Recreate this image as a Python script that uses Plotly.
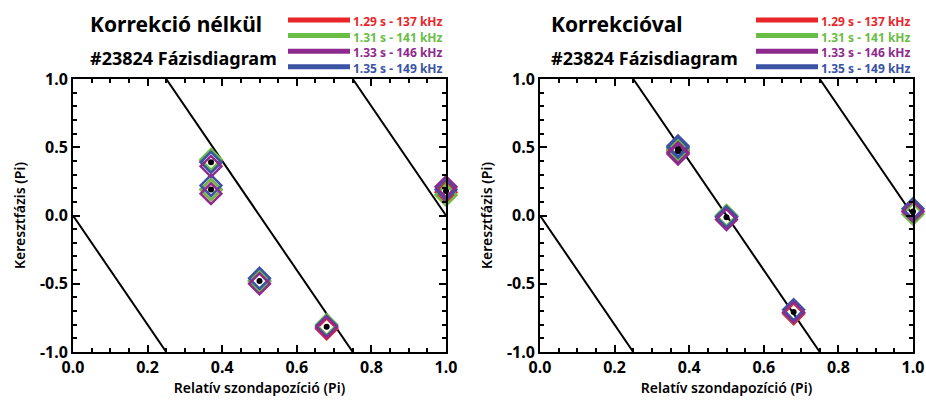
import plotly.graph_objects as go

# Probe positions (relative, in units of Pi) and measured cross-phases (Pi)
positions = [0.37, 0.37, 0.5, 0.68, 1.0]

series_names = ["1.29 s - 137 kHz", "1.31 s - 141 kHz", "1.33 s - 146 kHz", "1.35 s - 149 kHz"]
series_colors = ["#e8262a", "#6abd45", "#8e2a8d", "#3a53a4"]

# Without correction
raw_red = [0.40, 0.19, -0.48, -0.83, 0.17]
raw_green = [0.41, 0.19, -0.48, -0.80, 0.15]
raw_purple = [0.36, 0.16, -0.50, -0.82, 0.21]
raw_blue = [0.39, 0.22, -0.46, -0.81, 0.19]

# With correction
cor_red = [0.48, 0.47, -0.01, -0.72, 0.03]
cor_green = [0.49, 0.47, 0.00, -0.71, 0.01]
cor_purple = [0.46, 0.45, -0.03, -0.71, 0.03]
cor_blue = [0.51, 0.50, -0.01, -0.69, 0.05]

# Reference mode lines: phase = slope * position + intercept
line_slope = -4.0
line_intercepts = [0.0, 2.0, 4.0]

x_ticks = [0.0, 0.2, 0.4, 0.6, 0.8, 1.0]
y_ticks = [-1.0, -0.5, 0.0, 0.5, 1.0]

panel_titles = ["Korrekció nélkül", "Korrekcióval"]
sub_title = "#23824 Fázisdiagram"
x_title = "Relatív szondapozíció (Pi)"
y_title = "Keresztfázis (Pi)"

FONT = "Noto Sans"
W, H = 926, 403

# pixel layout of the two panels
panels = [
    dict(x0=73, x1=446, xa="x", ya="y", data=[raw_red, raw_green, raw_blue, raw_purple],
         title_x=88, leg_line=(288, 350)),
    dict(x0=540, x1=913, xa="x2", ya="y2", data=[cor_red, cor_green, cor_blue, cor_purple],
         title_x=549, leg_line=(756, 818)),
]
y_top, y_bot = 79, 352
draw_colors = [series_colors[0], series_colors[1], series_colors[3], series_colors[2]]

fig = go.Figure()


def clipped_segment(b):
    # clip y = slope*x + b to the box [0,1] x [-1,1]
    xs = []
    for x in (0.0, 1.0):
        y = line_slope * x + b
        if -1.0 <= y <= 1.0:
            xs.append(x)
    for y in (-1.0, 1.0):
        x = (y - b) / line_slope
        if 0.0 <= x <= 1.0:
            xs.append(x)
    xs = sorted(set(round(v, 9) for v in xs))
    return [xs[0], xs[-1]], [line_slope * xs[0] + b, line_slope * xs[-1] + b]


for p in panels:
    for b in line_intercepts:
        lx, ly = clipped_segment(b)
        fig.add_trace(go.Scatter(x=lx, y=ly, mode="lines", xaxis=p["xa"], yaxis=p["ya"],
                                 line=dict(color="black", width=2), showlegend=False,
                                 hoverinfo="skip"))
    vals = p["data"]
    for v, c in zip(vals, draw_colors):
        fig.add_trace(go.Scatter(x=positions, y=v, mode="markers", xaxis=p["xa"], yaxis=p["ya"],
                                 marker=dict(symbol="diamond-open", size=16, color=c,
                                             line=dict(width=2.5, color=c)),
                                 showlegend=False, cliponaxis=False))
    means = [sum(v[i] for v in vals) / len(vals) for i in range(len(positions))]
    fig.add_trace(go.Scatter(x=positions, y=means, mode="markers", xaxis=p["xa"], yaxis=p["ya"],
                             marker=dict(symbol="circle", size=6, color="black"),
                             showlegend=False, cliponaxis=False))

axis_common = dict(
    showline=True, linewidth=2, linecolor="black", mirror="ticks",
    ticks="inside", ticklen=7, tickwidth=2, tickcolor="black",
    showgrid=False, zeroline=False, automargin=False,
    tickfont=dict(family=FONT, size=16, color="black", weight="bold"),
)

layout = dict(
    width=W, height=H, margin=dict(l=0, r=0, t=0, b=0),
    paper_bgcolor="white", plot_bgcolor="white", showlegend=False,
)

annotations = []
shapes = []
for i, p in enumerate(panels):
    sfx = "" if i == 0 else "2"
    xa = dict(axis_common, domain=[p["x0"] / W, p["x1"] / W], range=[0, 1],
              tickvals=x_ticks, ticktext=[f"{t:.1f}" for t in x_ticks],
              minor=dict(dtick=0.05, ticks="inside", ticklen=4, tickwidth=2, tickcolor="black"),
              anchor="y" + sfx,
              title=dict(text=x_title, font=dict(family=FONT, size=14, color="black", weight=600),
                         standoff=6))
    ya = dict(axis_common, domain=[1 - y_bot / H, 1 - y_top / H], range=[-1, 1],
              tickvals=y_ticks, ticktext=[f"{t:.1f}" for t in y_ticks],
              minor=dict(dtick=0.1, ticks="inside", ticklen=4, tickwidth=2, tickcolor="black"),
              anchor="x" + sfx,
              title=dict(text=y_title, font=dict(family=FONT, size=14, color="black", weight=600),
                         standoff=11))
    layout["xaxis" + sfx] = xa
    layout["yaxis" + sfx] = ya

    annotations.append(dict(x=p["title_x"] / W, y=1 - 24 / H, xref="paper", yref="paper",
                            xanchor="left", yanchor="middle", showarrow=False,
                            text=panel_titles[i],
                            font=dict(family=FONT, size=21, color="black", weight="bold")))
    annotations.append(dict(x=p["title_x"] / W, y=1 - 58 / H, xref="paper", yref="paper",
                            xanchor="left", yanchor="middle", showarrow=False,
                            text=sub_title,
                            font=dict(family=FONT, size=18, color="black", weight="bold")))
    lx0, lx1 = p["leg_line"]
    # legend entries: colored bars plus one multi-line text block
    rows = []
    for j, (name, col) in enumerate(zip(series_names, series_colors)):
        yy = 20 + j * 15.6
        shapes.append(dict(type="line", xref="paper", yref="paper",
                           x0=lx0 / W, x1=lx1 / W, y0=1 - yy / H, y1=1 - yy / H,
                           line=dict(color=col, width=5)))
        rows.append(f"<span style='color:{col}'>{name}</span>")
    annotations.append(dict(x=(lx1 + 2) / W, y=1 - (20 - 8) / H, xref="paper", yref="paper",
                            xanchor="left", yanchor="top", align="left", showarrow=False,
                            text="<br>".join(rows), borderpad=0,
                            font=dict(family=FONT, size=12, color="black", weight="bold")))

layout["annotations"] = annotations
layout["shapes"] = shapes
fig.update_layout(**layout)
fig.write_html("out.html")
